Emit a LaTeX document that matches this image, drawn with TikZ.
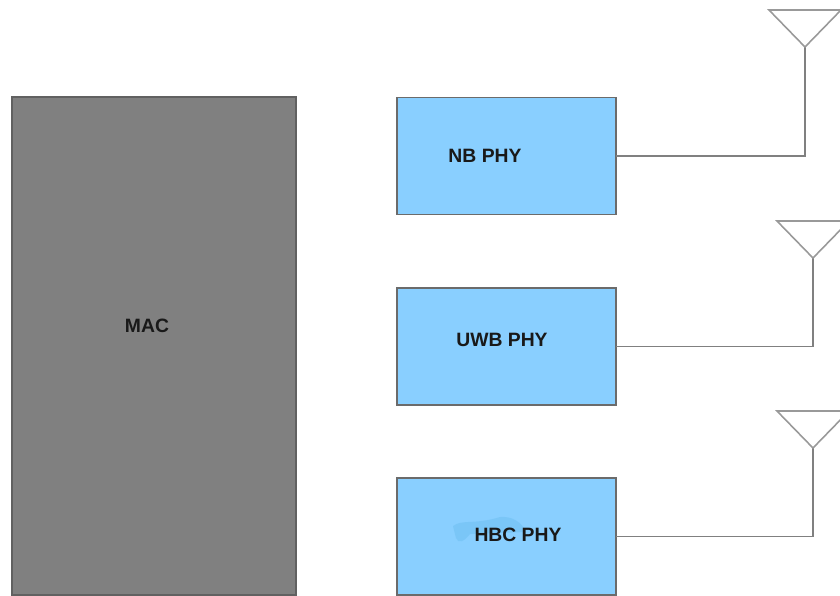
\documentclass[tikz,border=0pt]{standalone}
\usepackage{xcolor}
\usepackage{fontspec}
\setmainfont{Liberation Sans}
\usepackage{tikz}
\usetikzlibrary{positioning, calc}
\definecolor{phyblue}{HTML}{89CFFF}
\definecolor{smudgeblue}{HTML}{6FC0F2}
\begin{document}
\begin{tikzpicture}[
        x=0.02cm, y=-0.02cm,
        phy/.style={draw=black!58, fill=phyblue, line width=0.7pt,
                    minimum width=4.38cm, minimum height=2.34cm, outer sep=0pt},
        mac/.style={draw=black!62, fill=black!50, line width=0.7pt,
                    minimum width=5.68cm, minimum height=9.96cm, outer sep=0pt},
        lbl/.style={font=\fontsize{11pt}{13pt}\selectfont\bfseries, text=black!90, inner sep=0pt},
        wire/.style={draw=black!50, line width=0.8pt},
        ant/.style={draw=black!40, line width=0.9pt, line join=miter}
    ]
    \clip (0, 0) rectangle (840, 596);
    % MAC block
    \node[mac] (MAC) at (154, 346) {};
    \node[lbl] (MACtext) at (147, 326) {MAC};
    % PHY blocks
    \node[phy] (NB) at (506.5, 156) {};
    \node[phy] (UWB) at (506.5, 346.5) {};
    \node[phy] (HBC) at (506.5, 536.5) {};
    % Smudge behind the last label
    \fill[smudgeblue, opacity=0.55] (453, 526) .. controls (462, 519) and (474, 525) .. (500, 517)
        .. controls (512, 516) and (522, 522) .. (526, 532) -- (470, 534)
        .. controls (464, 542) and (458, 544) .. (456, 538) -- cycle;
    \node[lbl] (NBtext) at (485, 156) {NB PHY};
    \node[lbl] (UWBtext) at (502, 340) {UWB PHY};
    \node[lbl] (HBCtext) at (518, 535) {HBC PHY};
    % Antennas and their feeds
    \foreach \name/\x/\y in {NB/805/47, UWB/813/258, HBC/813/448} {
        \coordinate (\name tip) at (\x, \y);
        \draw[wire] (\name.east) -| (\name tip);
        \draw[ant] (\name tip) -- ++(-36, -37) -- ++(72, 0) -- cycle;
    }
\end{tikzpicture}
\end{document}
